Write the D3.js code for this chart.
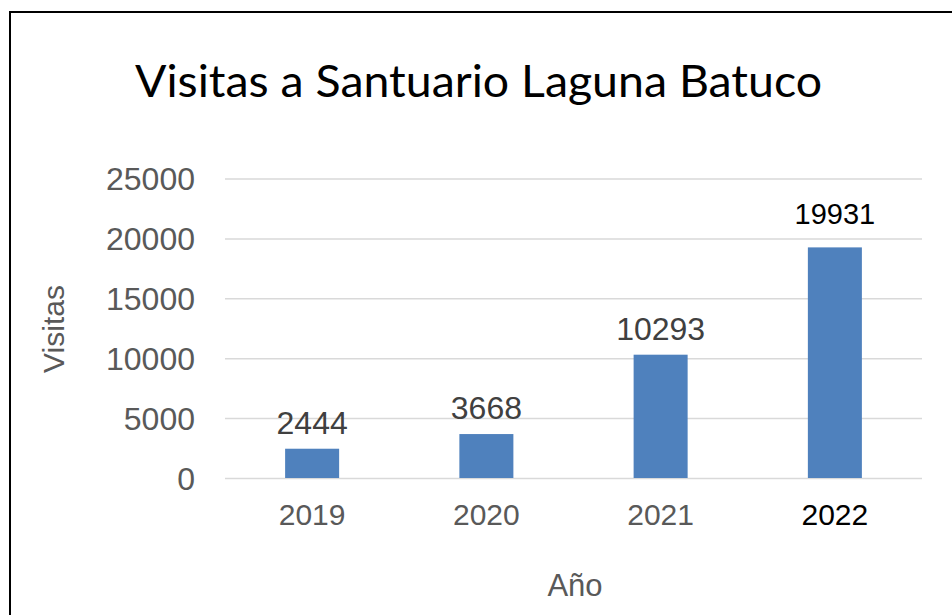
<!DOCTYPE html>
<html>
<head>
<meta charset="utf-8">
<script src="https://cdnjs.cloudflare.com/ajax/libs/d3/7.8.5/d3.min.js"></script>
<style>
  body { margin: 0; background: #fff; }
  svg { display: block; }
</style>
</head>
<body>
<svg id="chart" width="952" height="615"></svg>
<script>
// data
var YEARS = ["2019", "2020", "2021", "2022"];
var VISITS = [2444, 3668, 10293, 19931];      // printed labels
var BAR_VALUES = [2444, 3668, 10293, 19250];  // bar heights as drawn
var Y_TICKS = [0, 5000, 10000, 15000, 20000, 25000];

var W = 952, H = 615;
var LEFT = 225, RIGHT = 922, BASE = 478, TOP = 178.5;

var SVG = d3.select("svg#chart");

// frame (only left and top show in the crop)
SVG.append("rect")
   .attr("x", 10).attr("y", 12)
   .attr("width", 1200).attr("height", 1200)
   .attr("fill", "none")
   .attr("stroke", "#000")
   .attr("stroke-width", 2);

var x = d3.scaleBand()
          .domain(YEARS)
          .range([LEFT, RIGHT])
          .paddingInner(0.69)
          .paddingOuter(0.345);

var y = d3.scaleLinear()
          .domain([0, 25000])
          .range([BASE, TOP]);

//gridlines + y tick labels
var yAxis = d3.axisLeft(y)
              .tickValues(Y_TICKS)
              .tickSize(-(RIGHT - LEFT))
              .tickPadding(30)
              .tickFormat(d3.format("d"));

var gy = SVG.append("g")
            .attr("transform", "translate(" + LEFT + ",0)")
            .call(yAxis);
gy.select(".domain").remove();
gy.selectAll(".tick line")
  .attr("stroke", "#d9d9d9")
  .attr("stroke-width", 1.5);
gy.selectAll(".tick text")
  .attr("fill", "#595959")
  .attr("font-family", "'Liberation Sans', Arial, sans-serif")
  .attr("font-size", 32)
  .attr("dy", "0.35em");

//bars
SVG.append("g").selectAll("rect")
   .data(YEARS)
   .join("rect")
   .attr("x", function(d){ return x(d); })
   .attr("width", x.bandwidth())
   .attr("y", function(d, i){ return y(BAR_VALUES[i]); })
   .attr("height", function(d, i){ return y(0) - y(BAR_VALUES[i]); })
   .attr("fill", "#4f81bd");

//data labels
SVG.append("g").selectAll("text")
   .data(YEARS)
   .join("text")
   .attr("x", function(d){ return x(d) + x.bandwidth() / 2; })
   .attr("y", function(d, i){ return y(VISITS[i]) - 15; })
   .attr("text-anchor", "middle")
   .attr("font-family", "'Liberation Sans', Arial, sans-serif")
   .attr("font-size", function(d, i){ return i === 3 ? 29 : 32; })
   .attr("fill", function(d, i){ return i === 3 ? "#000" : "#404040"; })
   .text(function(d, i){ return VISITS[i]; });

//x axis labels
var xAxis = d3.axisBottom(x).tickSize(0).tickPadding(0);
var gx = SVG.append("g")
            .attr("transform", "translate(0," + BASE + ")")
            .call(xAxis);
gx.select(".domain").remove();
gx.selectAll(".tick text")
  .attr("y", 47)
  .attr("dy", 0)
  .attr("font-family", "'Liberation Sans', Arial, sans-serif")
  .attr("font-size", 30)
  .attr("fill", function(d){ return d === "2022" ? "#000" : "#595959"; });

//titles
SVG.append("text")
   .attr("x", 478.5).attr("y", 97)
   .attr("text-anchor", "middle")
   .attr("font-family", "Lato, 'Open Sans', sans-serif")
   .attr("font-size", 45)
   .attr("textLength", 687)
   .attr("lengthAdjust", "spacingAndGlyphs")
   .attr("fill", "#000")
   .text("Visitas a Santuario Laguna Batuco");

SVG.append("text")
   .attr("transform", "translate(64,329) rotate(-90)")
   .attr("text-anchor", "middle")
   .attr("font-family", "'Liberation Sans', Arial, sans-serif")
   .attr("font-size", 30)
   .attr("fill", "#595959")
   .text("Visitas");

SVG.append("text")
   .attr("x", 575).attr("y", 596)
   .attr("text-anchor", "middle")
   .attr("font-family", "'Liberation Sans', Arial, sans-serif")
   .attr("font-size", 31)
   .attr("fill", "#595959")
   .text("Año");
</script>
</body>
</html>
